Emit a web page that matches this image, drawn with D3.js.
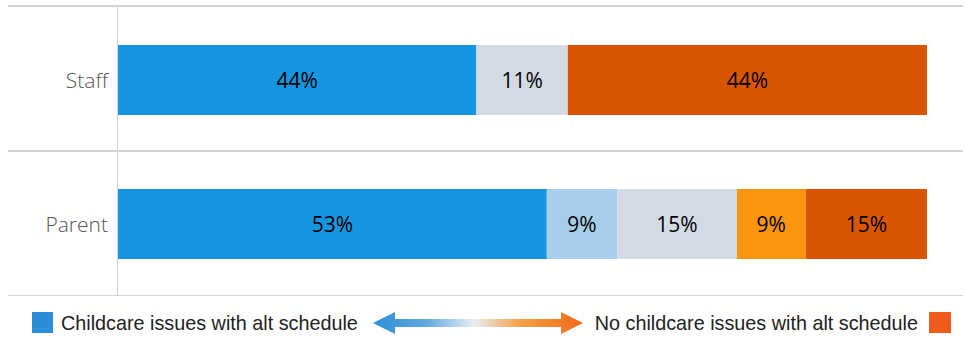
<!DOCTYPE html>
<html><head><meta charset="utf-8">
<script src="https://cdn.jsdelivr.net/npm/d3@7"></script>
<style>body{margin:0;background:#fff}svg{display:block}</style>
</head><body>
<svg id="c" width="966" height="338"></svg>
<script>
const categories = ["Staff", "Parent"];
const seriesNames = ["Strong childcare issues", "Some childcare issues", "Neutral", "Some no childcare issues", "Strong no childcare issues"];
const seriesColors = ["#1696e0", "#a6cde9", "#d3dae4", "#fa960e", "#d95500"];
const staffValues = [44.3, 0, 11.3, 0, 44.4];
const parentValues = [53.0, 8.7, 14.8, 8.5, 15.0];
const staffLabels = ["44%", "", "11%", "", "44%"];
const parentLabels = ["53%", "9%", "15%", "9%", "15%"];
const legendLeft = "Childcare issues with alt schedule";
const legendRight = "No childcare issues with alt schedule";

const svg = d3.select("#c");
const x = d3.scaleLinear().domain([0, 100]).range([118, 927]);
const yBand = d3.scaleBand().domain(categories).range([8, 296]).paddingInner(0).paddingOuter(0);
const barH = 70;

const rows = [
  {cat: "Staff", values: staffValues, labels: staffLabels},
  {cat: "Parent", values: parentValues, labels: parentLabels}
];

// grid lines
svg.append("line").attr("x1", 8).attr("x2", 963).attr("y1", 6).attr("y2", 6).attr("stroke", "#d4d4d4").attr("stroke-width", 2);
svg.append("line").attr("x1", 8).attr("x2", 963).attr("y1", 151).attr("y2", 151).attr("stroke", "#d4d4d4").attr("stroke-width", 2);
svg.append("line").attr("x1", 8).attr("x2", 963).attr("y1", 295.5).attr("y2", 295.5).attr("stroke", "#d4d4d4").attr("stroke-width", 1);
svg.append("line").attr("x1", 117.5).attr("x2", 117.5).attr("y1", 6).attr("y2", 295).attr("stroke", "#d4d4d4").attr("stroke-width", 1);

rows.forEach(r => {
  const yc = yBand(r.cat) + yBand.bandwidth() / 2;
  let cum = 0;
  r.values.forEach((v, i) => {
    const x0 = x(cum), x1 = x(cum + v);
    cum += v;
    if (v <= 0) return;
    svg.append("rect").attr("x", x0).attr("y", yc - barH / 2).attr("width", x1 - x0).attr("height", barH).attr("fill", seriesColors[i]);
    svg.append("text").attr("x", (x0 + x1) / 2).attr("y", yc).attr("dy", "0.36em")
      .attr("text-anchor", "middle").attr("font-family", "'Open Sans', sans-serif").attr("font-size", 21)
      .attr("fill", "#000").text(r.labels[i]);
  });
  svg.append("text").attr("x", 108).attr("y", yc).attr("dy", "0.36em").attr("text-anchor", "end")
    .attr("font-family", "'Open Sans', sans-serif").attr("font-size", 21).attr("font-weight", 300).attr("fill", "#555").text(r.cat);
});

// legend
const ly = 323;
svg.append("rect").attr("x", 32).attr("y", 312).attr("width", 21).attr("height", 21).attr("fill", "#2b8fd8");
svg.append("text").attr("x", 61).attr("y", ly).attr("dy", "0.35em").attr("font-family", "'Liberation Sans', Arial, sans-serif")
  .attr("font-size", 19.8).attr("fill", "#222").text(legendLeft);
svg.append("text").attr("x", 918).attr("y", ly).attr("dy", "0.35em").attr("text-anchor", "end").attr("font-family", "'Liberation Sans', Arial, sans-serif")
  .attr("font-size", 19.8).attr("fill", "#222").text(legendRight);
svg.append("rect").attr("x", 929).attr("y", 312).attr("width", 22).attr("height", 21).attr("fill", "#f05a1a");

const defs = svg.append("defs");
const g = defs.append("linearGradient").attr("id", "ag").attr("x1", "0%").attr("x2", "100%");
g.append("stop").attr("offset", "0%").attr("stop-color", "#2d8fd8");
g.append("stop").attr("offset", "25%").attr("stop-color", "#5ea8de");
g.append("stop").attr("offset", "48%").attr("stop-color", "#e8eef4");
g.append("stop").attr("offset", "70%").attr("stop-color", "#f7a045");
g.append("stop").attr("offset", "100%").attr("stop-color", "#f26a1a");
const ax0 = 373, ax1 = 583, ah = 22, sh = 8, hw = 22;
const pts = [[ax0, ly], [ax0 + hw, ly - ah / 2], [ax0 + hw, ly - sh / 2], [ax1 - hw, ly - sh / 2], [ax1 - hw, ly - ah / 2], [ax1, ly],
  [ax1 - hw, ly + ah / 2], [ax1 - hw, ly + sh / 2], [ax0 + hw, ly + sh / 2], [ax0 + hw, ly + ah / 2]];
svg.append("path").attr("d", d3.line()(pts) + "Z").attr("fill", "url(#ag)");
</script>
</body></html>
